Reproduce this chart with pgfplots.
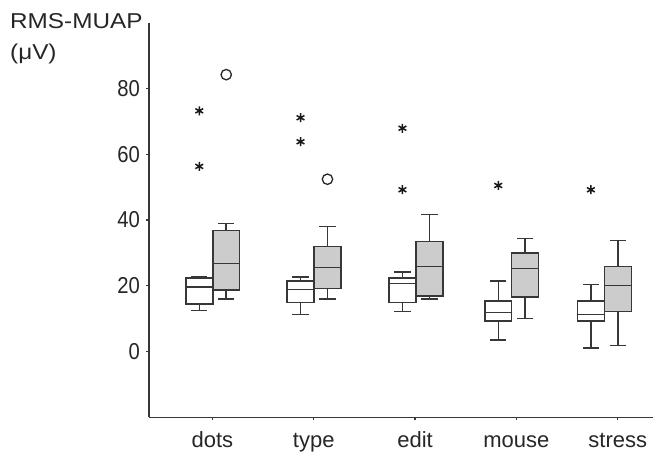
\documentclass[border=0pt]{standalone}
\usepackage{fontspec}
\setmainfont{Liberation Sans}
\newfontfamily\narrowfont[FakeStretch=0.88]{Liberation Sans}
\newfontfamily\widefont[FakeStretch=1.13]{Liberation Sans}
\usepackage{pgfplots}
\pgfplotsset{compat=1.18}
\usepgfplotslibrary{statistics}
\definecolor{lc}{RGB}{55,55,55}
\definecolor{boxgray}{RGB}{204,204,204}
\begin{document}
\begin{tikzpicture}[line width=1.5pt]
\path[use as bounding box] (0pt,0pt) rectangle (655pt,452pt);
\begin{axis}[
  at={(149pt,34.7pt)}, anchor=south west,
  scale only axis, width=504pt, height=394.6pt,
  xmin=0.375, xmax=5.348, ymin=-20, ymax=100,
  axis x line*=bottom, axis y line*=left,
  axis line style={draw=lc, line width=1.3pt},
  tick style={draw=lc, line width=1.1pt},
  tick align=outside, major tick length=3pt,
  xtick={1,2,3,4,5}, xticklabels={dots,type,edit,mouse,stress},
  ytick={0,20,40,60,80}, yticklabels={0,20,40,60,80},
  xticklabel style={font=\fontsize{22}{22}\selectfont, inner sep=0pt, anchor=base, yshift=-27pt, text=black!85},
  yticklabel style={font=\narrowfont\fontsize{23}{23}\selectfont, inner sep=0pt, xshift=-6pt, text=black!85},
  boxplot/draw direction=y,
  boxplot/box extend=0.266, boxplot/whisker extend=0.16,
  boxplot/every boxplot/.style={solid, draw=lc, line width=1.5pt},
  boxplot/every box/.append style={solid, draw=lc, line width=1.5pt},
  boxplot/every whisker/.append style={solid, draw=lc, line width=1.5pt},
  boxplot/every median/.append style={solid, draw=lc, line width=1.5pt},
  every axis plot/.append style={solid, draw=lc, line width=1.5pt},
  wbox/.style={fill=white, mark=asterisk, mark size=4.5pt, mark options={solid, draw=black!90, line width=1.5pt}},
  gbox/.style={fill=boxgray, mark=o, mark size=5.2pt, mark options={solid, draw=black!85, fill=white, line width=1.3pt}},
  clip=false,
]
% dots
\addplot[wbox, boxplot prepared={draw position=0.871, lower whisker=12.5, lower quartile=14.5, median=19.7, upper quartile=22.4, upper whisker=22.7}]
  coordinates {(0,73.2) (0,56.3)};
\addplot[gbox, boxplot prepared={draw position=1.137, lower whisker=15.9, lower quartile=18.7, median=26.8, upper quartile=36.8, upper whisker=38.9}]
  coordinates {(0,84.2)};
% type
\addplot[wbox, boxplot prepared={draw position=1.870, lower whisker=11.3, lower quartile=14.9, median=18.9, upper quartile=21.4, upper whisker=22.7}]
  coordinates {(0,71.1) (0,63.8)};
\addplot[gbox, boxplot prepared={draw position=2.136, lower whisker=15.9, lower quartile=19.1, median=25.5, upper quartile=32.0, upper whisker=38.0}]
  coordinates {(0,52.4)};
% edit
\addplot[wbox, boxplot prepared={draw position=2.876, lower whisker=12.1, lower quartile=14.9, median=20.7, upper quartile=22.4, upper whisker=24.2}]
  coordinates {(0,67.9) (0,49.2)};
\addplot[gbox, boxplot prepared={draw position=3.142, lower whisker=15.9, lower quartile=16.9, median=25.8, upper quartile=33.5, upper whisker=41.6}]
  coordinates {};
% mouse
\addplot[wbox, boxplot prepared={draw position=3.821, lower whisker=3.5, lower quartile=9.3, median=11.8, upper quartile=15.4, upper whisker=21.4}]
  coordinates {(0,50.5)};
\addplot[gbox, boxplot prepared={draw position=4.087, lower whisker=10.0, lower quartile=16.6, median=25.3, upper quartile=30.0, upper whisker=34.4}]
  coordinates {};
% stress
\addplot[wbox, boxplot prepared={draw position=4.735, lower whisker=1.0, lower quartile=9.3, median=11.3, upper quartile=15.4, upper whisker=20.4}]
  coordinates {(0,49.2)};
\addplot[gbox, boxplot prepared={draw position=5.001, lower whisker=1.9, lower quartile=12.1, median=20.1, upper quartile=25.8, upper whisker=33.8}]
  coordinates {};
\end{axis}
\node[anchor=base west, inner sep=0pt, text=black!85, font=\widefont\fontsize{21.5}{21.5}\selectfont] at (10pt,423pt) {RMS-MUAP};
\node[anchor=base west, inner sep=0pt, text=black!85, font=\widefont\fontsize{21.5}{21.5}\selectfont] at (10pt,392pt) {(μV)};
\end{tikzpicture}
\end{document}
